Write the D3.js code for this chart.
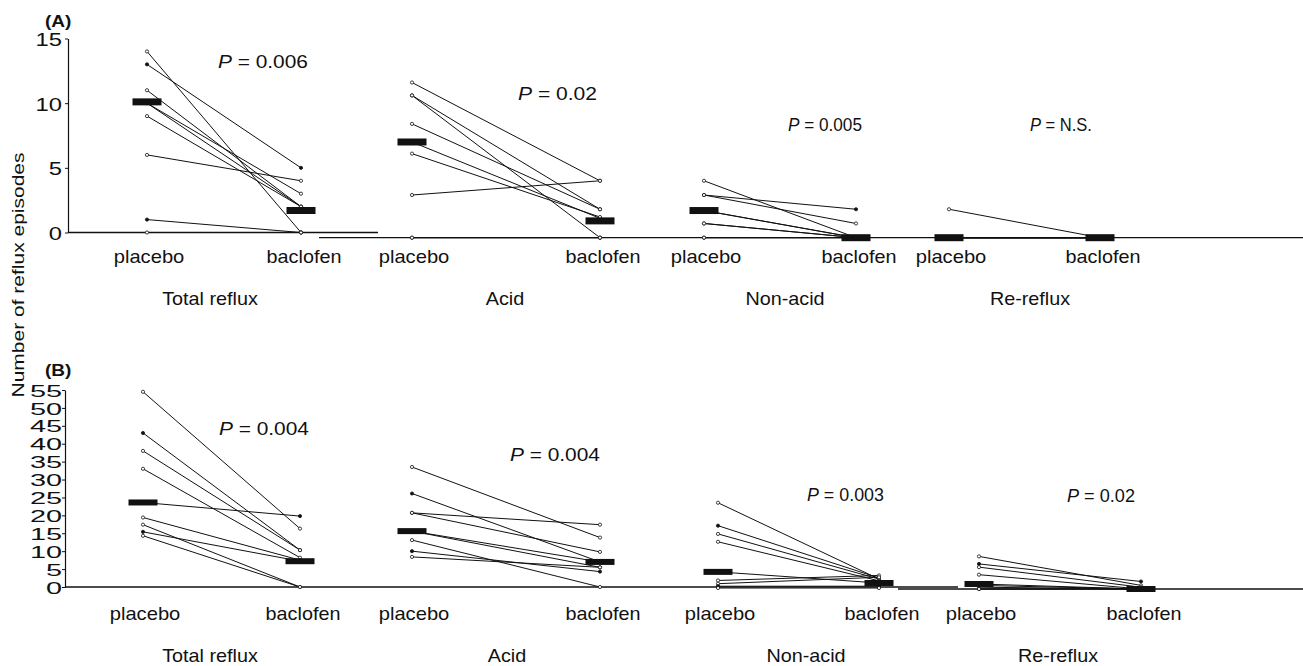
<!DOCTYPE html>
<html>
<head>
<meta charset="utf-8">
<script src="https://cdn.jsdelivr.net/npm/d3@7"></script>
<style>
  body { margin: 0; background: #fff; }
  svg { display: block; font-family: "Liberation Sans", Arial, Helvetica, sans-serif; }
</style>
</head>
<body>
<div id="chart"></div>
<script>
// categories and arms
const categories = ["Total reflux", "Acid", "Non-acid", "Re-reflux"];
const arms = ["placebo", "baclofen"];

// P values per category
const pValuesA = ["0.006", "0.02", "0.005", "N.S."];
const pValuesB = ["0.004", "0.004", "0.003", "0.02"];

// tick labels
const yTicksA = [0, 5, 10, 15];
const yTicksB = [0, 5, 10, 15, 20, 25, 30, 35, 40, 45, 50, 55];

// Panel A, one value per patient (same order in both arms)
const aTotalPlacebo  = [14, 13, 11, 10, 10, 9, 6, 1, 0];
const aTotalBaclofen = [0, 5, 2, 3, 2, 2, 4, 0, 0];
const aAcidPlacebo   = [12, 11, 11, 8.8, 7.4, 6.5, 3.3, 0, 0];
const aAcidBaclofen  = [4.4, 2.2, 0, 2.2, 1.5, 1.6, 4.4, 0, 0];
const aNonPlacebo    = [4.4, 3.3, 3.3, 2.1, 2.1, 1.1, 1.1, 0, 0];
const aNonBaclofen   = [0, 2.2, 1.1, 0, 0, 0, 0, 0, 0];
const aRePlacebo     = [2.2, 0, 0, 0, 0, 0, 0, 0, 0];
const aReBaclofen    = [0, 0, 0, 0, 0, 0, 0, 0, 0];

// Panel B
const bTotalPlacebo  = [54.5, 43, 38, 33, 23.6, 19.4, 17.4, 15.4, 14.3];
const bTotalBaclofen = [16.3, 10.3, 10.3, 8.2, 19.8, 7.5, 0, 7.2, 0];
const bAcidPlacebo   = [33.5, 26.1, 20.7, 20.7, 15.6, 15.6, 13.1, 10, 8.4];
const bAcidBaclofen  = [13.8, 7, 17.4, 9.8, 5.5, 7, 0, 4.3, 5.5];
const bNonPlacebo    = [23.8, 17.4, 15.1, 12.9, 4.5, 2.1, 1.2, 0.5, 0];
const bNonBaclofen   = [2.5, 2.8, 2.5, 2, 1.4, 3.5, 3.0, 0.5, 0];
const bRePlacebo     = [9.1, 7, 6.1, 4, 1.4, 1, 0.5, 0, 0];
const bReBaclofen    = [1, 2.1, 0.5, 0, 0, 0, 0, 0, 0];

// medians (black bars)
const aMedianPlacebo  = [10.1, 7.4, 2.1, 0];
const aMedianBaclofen = [1.7, 1.3, 0, 0];
const bMedianPlacebo  = [23.6, 15.6, 4.5, 1.4];
const bMedianBaclofen = [7.2, 7.0, 1.4, 0];

const W = 1303, H = 666;
const ink = "#111";

const svg = d3.select("#chart").append("svg")
  .attr("width", W).attr("height", H)
  .attr("viewBox", `0 0 ${W} ${H}`);

// stretched text helper (figure was scanned with a wide aspect)
function txt(g, str, x, y, o = {}) {
  const t = g.append("text")
    .attr("text-anchor", o.anchor || "middle")
    .style("font-size", (o.size || 18) + "px")
    .style("font-weight", o.weight || "normal")
    .attr("fill", ink);
  if (o.italicP) {
    t.append("tspan").style("font-style", "italic").text("P");
    t.append("tspan").text(" = " + str);
  } else {
    t.text(str);
  }
  let sx = o.sx || 1;
  if (o.width) sx = o.width / t.node().getComputedTextLength();
  t.attr("transform", `translate(${x},${y}) rotate(${o.rotate || 0}) scale(${sx},1)`);
  return t;
}

const panels = [
  {
    name: "(A)", nameY: 27,
    ticks: yTicksA, yMax: 15, yTop: 38.5, yZero: 232.5, axisX: 68,
    shift: [0, 5.2, 5.2, 5.2],
    baseSegs: [[68, 378, 0], [319, W, 1]],
    xPlacebo: [147, 412, 704, 949], xBaclofen: [301, 600, 856, 1100],
    armY: 263, titleY: 305, titleX: [210, 505, 785, 1030],
    tickSize: 19, tickSx: 1.25, tickGap: 6,
    pVals: pValuesA,
    pPos: [[218, 90, 68], [518, 79, 100], [788, 74, 131], [1030, 62, 131]],
    placebo: [aTotalPlacebo, aAcidPlacebo, aNonPlacebo, aRePlacebo],
    baclofen: [aTotalBaclofen, aAcidBaclofen, aNonBaclofen, aReBaclofen],
    medP: aMedianPlacebo, medB: aMedianBaclofen, barH: 7
  },
  {
    name: "(B)", nameY: 376,
    ticks: yTicksB, yMax: 55, yTop: 390, yZero: 587, axisX: 65,
    shift: [0, 0, 1, 2],
    baseSegs: [[65, 958, 0], [898, W, 3]],
    xPlacebo: [143, 412, 718, 979], xBaclofen: [300, 600, 879, 1141],
    armY: 620, titleY: 662, titleX: [210, 507, 806, 1058],
    tickSize: 17, tickSx: 1.7, tickGap: 3,
    pVals: pValuesB,
    pPos: [[219, 90, 435], [510, 90, 461], [807, 77, 501], [1067, 68, 502]],
    placebo: [bTotalPlacebo, bAcidPlacebo, bNonPlacebo, bRePlacebo],
    baclofen: [bTotalBaclofen, bAcidBaclofen, bNonBaclofen, bReBaclofen],
    medP: bMedianPlacebo, medB: bMedianBaclofen, barH: 6
  }
];

panels.forEach(p => {
  const g = svg.append("g");
  const y = d3.scaleLinear().domain([0, p.yMax]).range([p.yZero, p.yTop]);
  const keys = categories.flatMap(c => arms.map(a => c + "|" + a));
  const x = d3.scaleOrdinal()
    .domain(keys)
    .range(categories.flatMap((c, i) => [p.xPlacebo[i], p.xBaclofen[i]]));

  // y axis
  const yAxis = g.append("g")
    .attr("transform", `translate(${p.axisX},0)`)
    .call(d3.axisLeft(y).tickValues(p.ticks).tickSize(3).tickPadding(0).tickSizeOuter(0));
  yAxis.select(".domain").attr("stroke", ink).attr("stroke-width", 1.2);
  yAxis.selectAll(".tick line").attr("stroke", ink);
  yAxis.selectAll(".tick text")
    .attr("fill", ink)
    .style("font-size", p.tickSize + "px")
    .style("font-family", "'Liberation Sans', Arial, sans-serif")
    .attr("dy", "0.36em")
    .attr("x", -p.tickGap / p.tickSx)
    .attr("transform", `scale(${p.tickSx},1)`);

  // baseline segments
  p.baseSegs.forEach(([x0, x1, gi]) => {
    g.append("line")
      .attr("x1", x0).attr("x2", x1)
      .attr("y1", y(0) + p.shift[gi]).attr("y2", y(0) + p.shift[gi])
      .attr("stroke", ink).attr("stroke-width", 1.3);
  });

  txt(g, p.name, 45, p.nameY, { anchor: "start", size: 17, weight: "bold", sx: 1.12 });

  categories.forEach((cat, ci) => {
    const yy = v => y(v) + p.shift[ci];
    const xp = x(cat + "|placebo"), xb = x(cat + "|baclofen");
    const pairs = p.placebo[ci].map((v, i) => [v, p.baclofen[ci][i]]);

    g.append("g").selectAll("line")
      .data(pairs).join("line")
      .attr("x1", xp).attr("x2", xb)
      .attr("y1", d => yy(d[0])).attr("y2", d => yy(d[1]))
      .attr("stroke", ink).attr("stroke-width", 1);

    [[xp, 0], [xb, 1]].forEach(([cx, k]) => {
      g.append("g").selectAll("circle")
        .data(pairs).join("circle")
        .attr("cx", cx).attr("cy", d => yy(d[k]))
        .attr("r", 1.6)
        .attr("fill", (d, i) => i % 3 === 1 ? ink : "#fff")
        .attr("stroke", ink).attr("stroke-width", 0.8);
    });

    // median bars
    [[xp, p.medP[ci]], [xb, p.medB[ci]]].forEach(([cx, m]) => {
      g.append("rect")
        .attr("x", cx - 14.5).attr("width", 29)
        .attr("y", yy(m) - p.barH / 2).attr("height", p.barH)
        .attr("fill", ink);
    });

    txt(g, "placebo", xp + 2, p.armY, { size: 18, sx: 1.12 });
    txt(g, "baclofen", xb + 3, p.armY, { size: 18, sx: 1.1 });
    txt(g, cat, p.titleX[ci], p.titleY, { size: 18, sx: 1.1 });

    const [px, pw, py] = p.pPos[ci];
    txt(g, p.pVals[ci], px, py, { anchor: "start", size: 18.5, width: pw, italicP: true });
  });
});

// shared y title
txt(svg, "Number of reflux episodes", 24, 275, { size: 16, rotate: -90, width: 245 });
</script>
</body>
</html>
